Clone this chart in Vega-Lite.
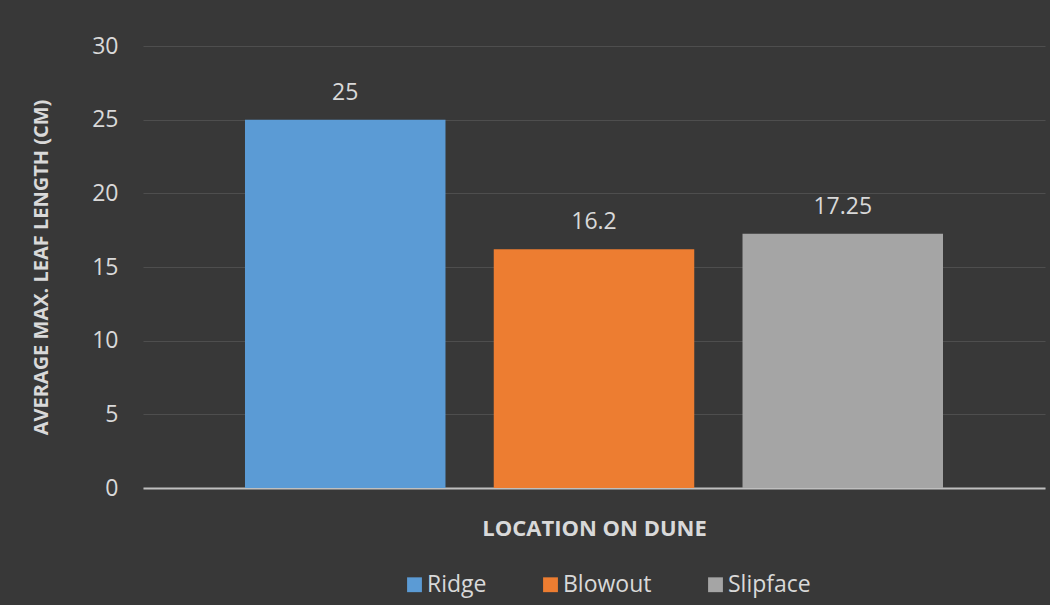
{
  "$schema": "https://vega.github.io/schema/vega-lite/v6.json",
  "width": 902,
  "height": 442,
  "autosize": {"type": "none"},
  "padding": {"left": 143, "top": 46, "right": 5, "bottom": 117},
  "background": "#383838",
  "config": {
    "view": {"stroke": null},
    "font": "Open Sans",
    "axis": {"labelFont": "Open Sans", "titleFont": "Open Sans"}
  },
  "data": {
    "values": [
      {"location": "Ridge", "length": 25},
      {"location": "Blowout", "length": 16.2},
      {"location": "Slipface", "length": 17.25}
    ]
  },
  "encoding": {
    "x": {
      "field": "location",
      "type": "nominal",
      "sort": ["Ridge", "Blowout", "Slipface"],
      "scale": {"paddingInner": 0.194, "paddingOuter": 0.41},
      "axis": {
        "title": "LOCATION ON DUNE",
        "labels": false,
        "ticks": false,
        "domainColor": "#bfbfbf",
        "domainWidth": 2,
        "titleColor": "#d9d9d9",
        "titleFontSize": 22,
        "titleFontWeight": "bold",
        "titlePadding": 30
      }
    },
    "y": {
      "field": "length",
      "type": "quantitative",
      "scale": {"domain": [0, 30], "nice": false},
      "axis": {
        "title": "AVERAGE MAX. LEAF LENGTH (CM)",
        "values": [0, 5, 10, 15, 20, 25, 30],
        "domain": false,
        "ticks": false,
        "gridColor": "#4e4e4e",
        "gridWidth": 1,
        "labelColor": "#d9d9d9",
        "labelFontSize": 23,
        "labelPadding": 25,
        "titleColor": "#d9d9d9",
        "titleFontSize": 20,
        "titleFontWeight": "bold",
        "titlePadding": 40
      }
    }
  },
  "layer": [
    {
      "mark": {"type": "bar"},
      "encoding": {
        "color": {
          "field": "location",
          "type": "nominal",
          "sort": ["Ridge", "Blowout", "Slipface"],
          "scale": {"domain": ["Ridge", "Blowout", "Slipface"], "range": ["#5b9bd5", "#ed7d31", "#a5a5a5"]},
          "legend": {
            "title": null,
            "orient": "none",
            "legendX": 260,
            "legendY": 527,
            "direction": "horizontal",
            "symbolType": "square",
            "symbolSize": 220,
            "symbolStrokeWidth": 0,
            "labelColor": "#d9d9d9",
            "labelFontSize": 23,
            "labelFont": "Open Sans",
            "columnPadding": 52,
            "labelOffset": 1
          }
        }
      }
    },
    {
      "mark": {"type": "text", "dy": -27, "fontSize": 23, "color": "#d9d9d9", "baseline": "middle"},
      "encoding": {
        "text": {"field": "length", "type": "quantitative", "format": "~g"}
      }
    }
  ]
}
